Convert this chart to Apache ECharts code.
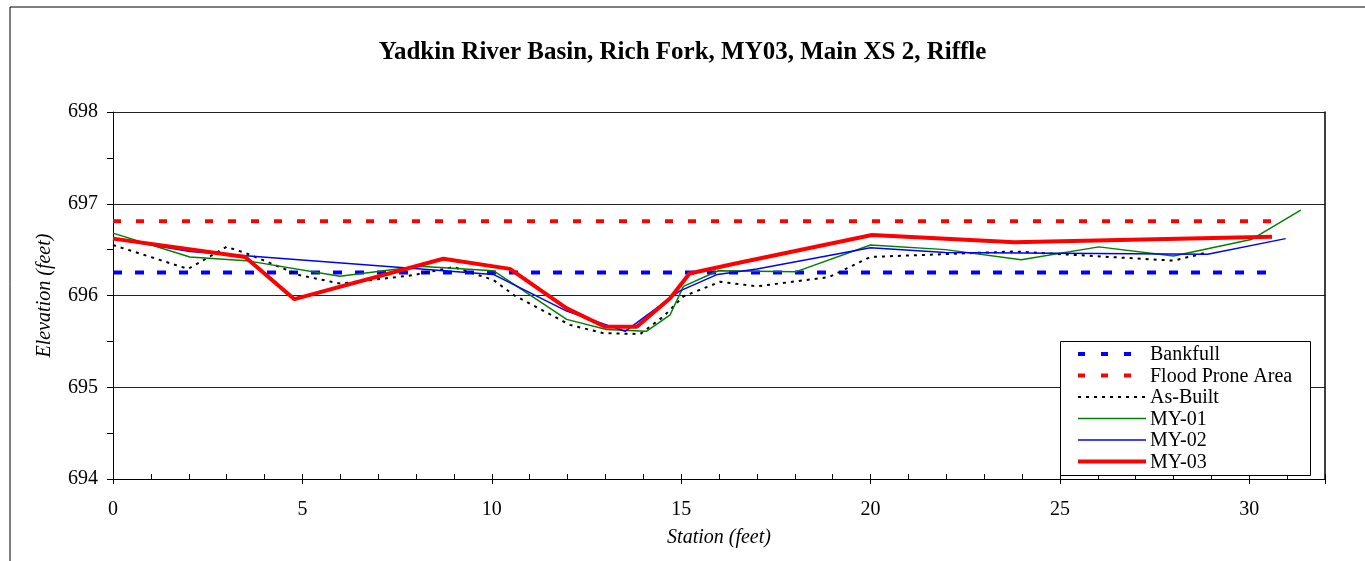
<!DOCTYPE html>
<html>
<head>
<meta charset="utf-8">
<script src="https://cdn.jsdelivr.net/npm/echarts@6/dist/echarts.min.js"></script>
<style>html,body{margin:0;padding:0;background:#fff}#c{width:1365px;height:561px}</style>
</head>
<body>
<div id="c"></div>
<script>
const titleText = 'Yadkin River Basin, Rich Fork, MY03, Main XS 2, Riffle';
const xName = 'Station (feet)';
const yName = 'Elevation (feet)';
const seriesNames = ['Bankfull', 'Flood Prone Area', 'As-Built', 'MY-01', 'MY-02', 'MY-03'];

const bankfullStation = [0, 30.7];
const bankfullElev = [696.25, 696.25];
const floodStation = [0, 30.7];
const floodElev = [696.81, 696.81];

const asBuiltStation = [0, 1.98, 3.0, 3.52, 4.94, 6.0, 7.9, 8.99, 10.04, 10.6, 12.06, 12.94, 13.92, 14.53, 15.06, 16.03, 17.0, 18.9, 20.0, 23.8, 28.0, 28.8];
const asBuiltElev = [696.55, 696.29, 696.53, 696.46, 696.22, 696.13, 696.22, 696.31, 696.17, 696.0, 695.68, 695.59, 695.58, 695.77, 695.99, 696.15, 696.10, 696.20, 696.42, 696.48, 696.38, 696.46];

const my01Station = [0, 2.03, 3.52, 5.99, 8.1, 10.04, 11.98, 13.03, 14.08, 14.71, 15.06, 15.98, 18.04, 20.0, 21.98, 23.98, 26.03, 28.0, 30.05, 31.36];
const my01Elev = [696.68, 696.42, 696.38, 696.21, 696.32, 696.27, 695.74, 695.63, 695.61, 695.79, 696.10, 696.27, 696.26, 696.55, 696.50, 696.39, 696.53, 696.43, 696.61, 696.93];

const my02Station = [0, 2.03, 10.04, 11.98, 13.03, 13.52, 14.97, 15.96, 17.0, 20.0, 21.98, 28.9, 30.96];
const my02Elev = [696.62, 696.48, 696.23, 695.83, 695.68, 695.61, 696.05, 696.23, 696.29, 696.52, 696.47, 696.45, 696.62];

const my03Station = [0, 3.49, 4.79, 8.72, 10.48, 11.98, 12.99, 13.83, 14.71, 15.22, 16.56, 20.04, 23.8, 30.6];
const my03Elev = [696.62, 696.42, 695.96, 696.40, 696.29, 695.86, 695.66, 695.66, 695.97, 696.24, 696.36, 696.66, 696.58, 696.64];

const xMin = 0, xMax = 32, xStep = 5;
const yMin = 694, yMax = 698, yStep = 1;

function pairs(xs, ys) { return xs.map((x, i) => [x, ys[i]]); }

const FONT = 'Liberation Serif';
const FS = 20;
const styles = [
  {color: '#0000ff', width: 4, type: [9, 13], legendDash: [7, 16]},
  {color: '#ff0000', width: 4, type: [8, 15], legendDash: [7, 16]},
  {color: '#000000', width: 2, type: [3, 5], legendDash: [3, 5]},
  {color: '#008000', width: 1.5, type: 'solid'},
  {color: '#0000ff', width: 1.5, type: 'solid'},
  {color: '#ff0000', width: 4, type: 'solid'}
];
const seriesData = [
  pairs(bankfullStation, bankfullElev),
  pairs(floodStation, floodElev),
  pairs(asBuiltStation, asBuiltElev),
  pairs(my01Station, my01Elev),
  pairs(my02Station, my02Elev),
  pairs(my03Station, my03Elev)
];

// manual legend (graphic)
const legendBox = {x: 1060.5, y: 341.5, w: 250, h: 134};
const legendRow0 = 354, legendRowStep = 21.5;
const legendGraphics = [
  {type: 'rect', shape: {x: legendBox.x, y: legendBox.y, width: legendBox.w, height: legendBox.h},
   style: {fill: '#fff', stroke: '#000', lineWidth: 1}, z: 100, silent: true}
];
seriesNames.forEach((name, i) => {
  const y = legendRow0 + i * legendRowStep;
  const st = styles[i];
  legendGraphics.push({
    type: 'line', shape: {x1: 1078, y1: y, x2: 1146, y2: y}, z: 101, silent: true,
    style: {stroke: st.color, lineWidth: st.width, lineDash: st.legendDash || null}
  });
  legendGraphics.push({
    type: 'text', x: 1150, y: y + 1, z: 101, silent: true,
    style: {text: name, fill: '#000', font: FS + 'px "' + FONT + '"', textAlign: 'left', textVerticalAlign: 'middle', verticalAlign: 'middle'}
  });
});

const chart = echarts.init(document.getElementById('c'), null, {renderer: 'canvas'});

chart.setOption({
  backgroundColor: '#fff',
  animation: false,
  title: {
    text: titleText, left: 'center', top: 35,
    textStyle: {fontFamily: FONT, fontSize: 25, fontWeight: 'bold', color: '#000'}
  },
  graphic: [
    {type: 'rect', shape: {x: 10, y: 7, width: 1400, height: 600}, style: {fill: null, stroke: '#000', lineWidth: 1}, z: -10, silent: true}
  ].concat(legendGraphics),
  grid: {left: 113, right: 40, top: 112, bottom: 82, containLabel: false},
  xAxis: [
    {
      type: 'value', min: xMin, max: xMax, interval: xStep,
      name: xName, nameLocation: 'middle', nameGap: 49,
      nameTextStyle: {fontFamily: FONT, fontSize: FS, fontStyle: 'italic', color: '#000'},
      axisLine: {show: true, onZero: false, lineStyle: {color: '#000', width: 1}},
      axisTick: {show: true, inside: false, length: 5, lineStyle: {color: '#000'}},
      axisLabel: {margin: 21, fontFamily: FONT, fontSize: FS, color: '#000',
        formatter: v => (v % xStep === 0 ? String(v) : '')},
      splitLine: {show: false}
    },
    {
      type: 'value', min: xMin, max: xMax, interval: 1, position: 'bottom',
      axisLine: {show: false, onZero: false},
      axisTick: {show: true, inside: true, length: 5, lineStyle: {color: '#000'}},
      axisLabel: {show: false},
      splitLine: {show: false}
    }
  ],
  yAxis: [
    {
      type: 'value', min: yMin, max: yMax, interval: yStep,
      name: yName, nameLocation: 'middle', nameGap: 58, nameRotate: 90,
      nameTextStyle: {fontFamily: FONT, fontSize: FS, fontStyle: 'italic', color: '#000'},
      axisLine: {show: true, onZero: false, lineStyle: {color: '#000', width: 1}},
      axisTick: {show: true, inside: false, length: 6, lineStyle: {color: '#000'}},
      minorTick: {show: true, splitNumber: 2, length: 6, lineStyle: {color: '#000'}},
      axisLabel: {margin: 15, fontFamily: FONT, fontSize: FS, color: '#000'},
      splitLine: {show: true, lineStyle: {color: '#222', width: 1}}
    },
    {
      type: 'value', min: yMin, max: yMax, interval: yStep, position: 'right',
      axisLine: {show: true, onZero: false, lineStyle: {color: '#000', width: 1.5}},
      axisTick: {show: false}, axisLabel: {show: false}, splitLine: {show: false}
    }
  ],
  series: seriesNames.map((name, i) => ({
    type: 'line', name: name, data: seriesData[i], symbol: 'none', showSymbol: false,
    xAxisIndex: 0, yAxisIndex: 0, animation: false, z: 2 + i,
    lineStyle: {color: styles[i].color, width: styles[i].width, type: styles[i].type},
    itemStyle: {color: styles[i].color}
  }))
});
</script>
</body>
</html>
